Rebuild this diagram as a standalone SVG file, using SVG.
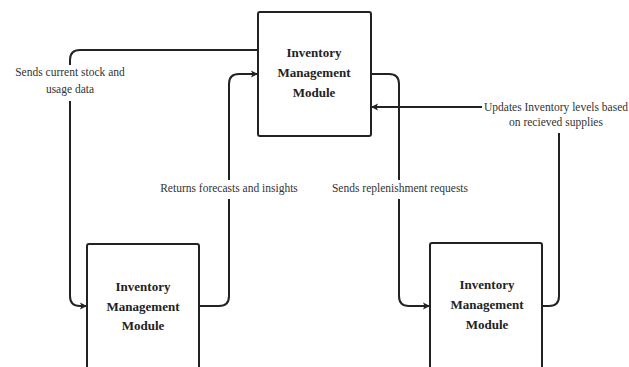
<svg xmlns="http://www.w3.org/2000/svg" width="629" height="367" viewBox="0 0 629 367">
<style>
.box{fill:#fff;stroke:#222;stroke-width:2}
.bt{font-family:"Liberation Serif",serif;font-weight:bold;font-size:13px;fill:#222;text-anchor:middle}
.lb{font-family:"Liberation Serif",serif;font-size:11.5px;fill:#333;text-anchor:middle}
.c{fill:none;stroke:#222;stroke-width:2}
</style>
<defs>
<marker id="ah" markerWidth="8" markerHeight="8" refX="6" refY="4" orient="auto" markerUnits="userSpaceOnUse">
<path d="M0,0.5 L7,4 L0,7.5 L1.5,4 Z" fill="#222"/>
</marker>
</defs>
<rect width="629" height="367" fill="#fff"/>
<g id="connectors">
<path class="c" d="M258,50 H80 Q70,50 70,60 V65"/>
<path class="c" d="M70,101 V296 Q70,306 80,306 H86" marker-end="url(#ah)"/>
<path class="c" d="M199,306 H219 Q229,306 229,296 V199"/>
<path class="c" d="M229,180 V84 Q229,74 239,74 H257" marker-end="url(#ah)"/>
<path class="c" d="M371,74 H389 Q399,74 399,84 V180"/>
<path class="c" d="M399,199 V296 Q399,306 409,306 H429" marker-end="url(#ah)"/>
<path class="c" d="M542,306 H549 Q559,306 559,296 V133"/>
<path class="c" d="M482,107 H372" marker-end="url(#ah)"/>
<text class="lb" x="70" y="76">Sends current stock and</text>
<text class="lb" x="70" y="93">usage data</text>
<text class="lb" x="229" y="192">Returns forecasts and insights</text>
<text class="lb" x="400" y="192">Sends replenishment requests</text>
<text class="lb" x="556" y="111">Updates Inventory levels based</text>
<text class="lb" x="556" y="126">on recieved supplies</text>
</g>
<g id="node-top">
<rect class="box" x="258" y="12" width="113" height="124" rx="2"/>
<text class="bt" x="314" y="56.5">Inventory</text>
<text class="bt" x="314" y="76.5">Management</text>
<text class="bt" x="314" y="96.5">Module</text>
</g>
<g id="node-left">
<rect class="box" x="87" y="244" width="112" height="140" rx="2"/>
<text class="bt" x="143" y="290.5">Inventory</text>
<text class="bt" x="143" y="310.5">Management</text>
<text class="bt" x="143" y="329.5">Module</text>
</g>
<g id="node-right">
<rect class="box" x="430" y="243" width="112" height="140" rx="2"/>
<text class="bt" x="487" y="288.5">Inventory</text>
<text class="bt" x="487" y="308.5">Management</text>
<text class="bt" x="487" y="328.5">Module</text>
</g>
</svg>
